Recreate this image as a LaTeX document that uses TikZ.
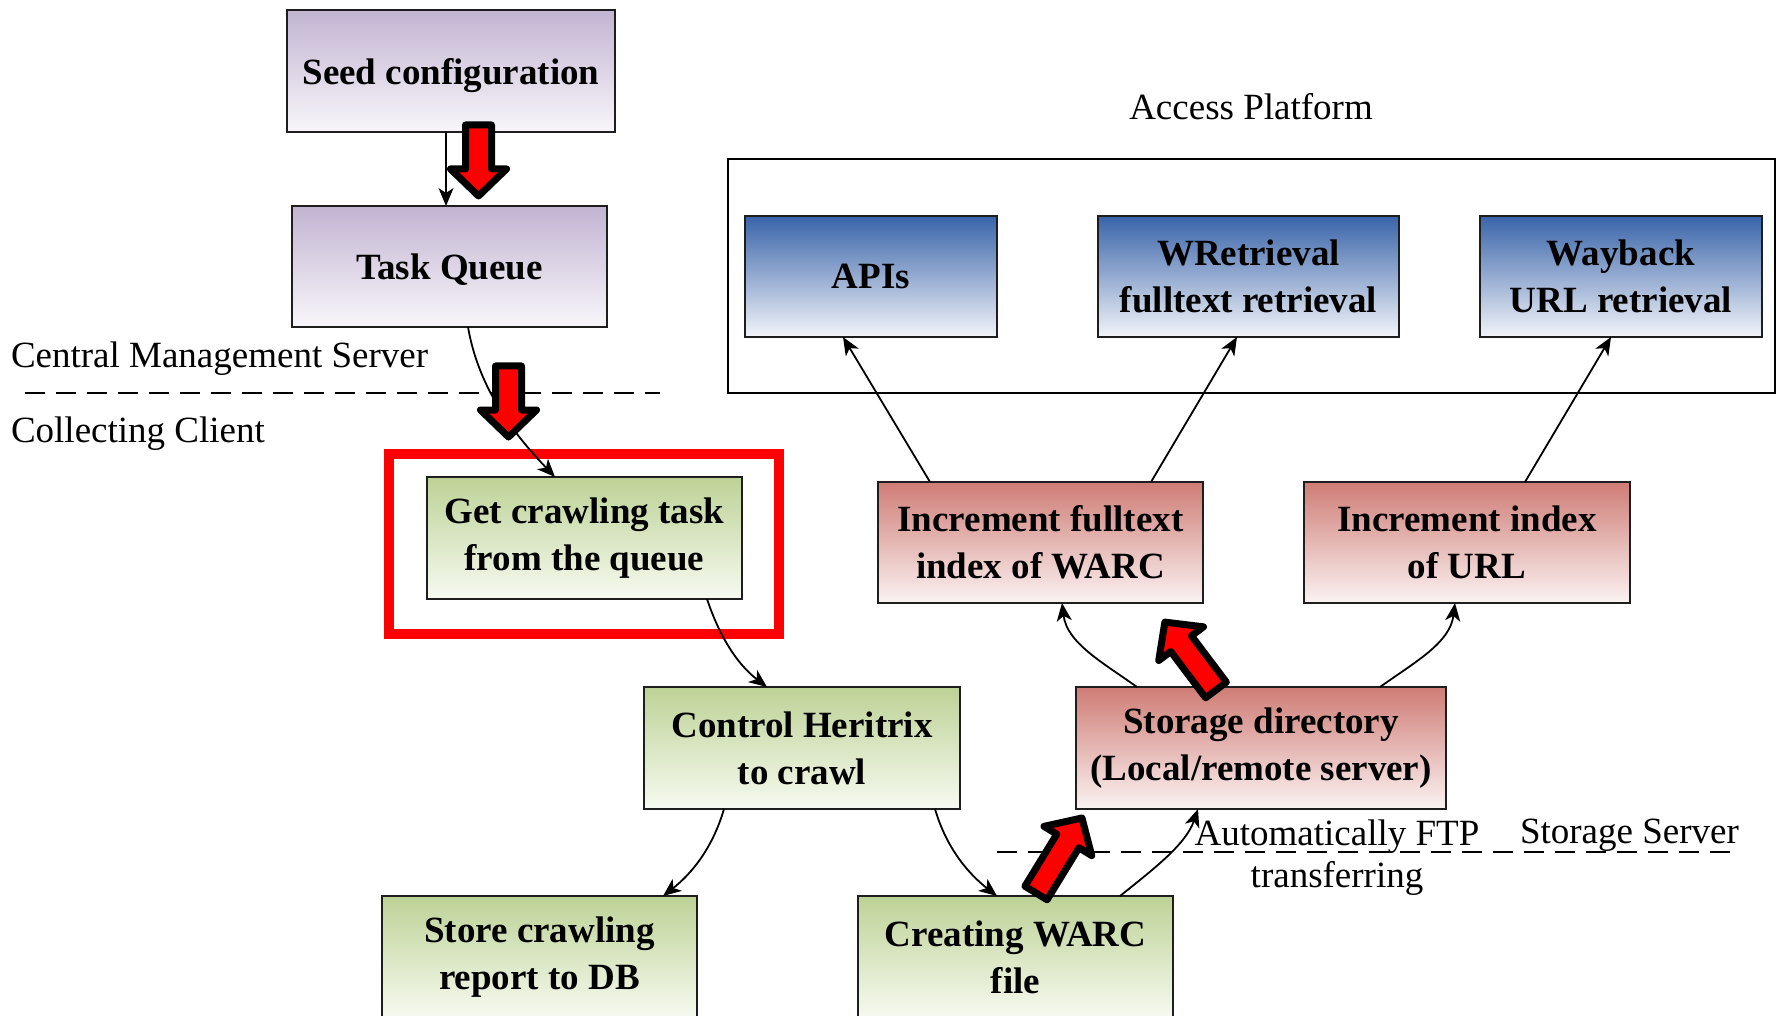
\documentclass[tikz,border=0pt]{standalone}
\usepackage{fontspec}
\setmainfont{Liberation Serif}
\usetikzlibrary{arrows.meta,calc}
\definecolor{purtop}{HTML}{C2B4D2}
\definecolor{purbot}{HTML}{F8F6FA}
\definecolor{blutop}{HTML}{3964A9}
\definecolor{blubot}{HTML}{F2F4F9}
\definecolor{redtop}{HTML}{CF7C75}
\definecolor{redbot}{HTML}{FBF3F3}
\definecolor{grntop}{HTML}{BDD296}
\definecolor{grnbot}{HTML}{F7FAF0}
\definecolor{boxline}{HTML}{1E1E1E}
\tikzset{
  box/.style={draw=boxline, line width=2.5pt, inner sep=0pt, outer sep=0pt, align=center,
    font=\fontsize{37}{47}\selectfont\bfseries},
  purplebox/.style={box, top color=purtop, bottom color=purbot},
  bluebox/.style={box, top color=blutop, bottom color=blubot},
  redbox/.style={box, top color=redtop, bottom color=redbot},
  greenbox/.style={box, top color=grntop, bottom color=grnbot},
  conn/.style={line width=1.8pt, -{Stealth[length=18pt,width=15pt,inset=5pt]}},
  redarrow/.style={fill=red, draw=black, line width=7pt, line join=round},
  lbl/.style={font=\fontsize{37}{45}\selectfont, inner sep=0pt, outer sep=0pt},
  dashline/.style={line width=2pt, dash pattern=on 20pt off 11pt},
}
\newcommand{\redblock}[3]{%
  \draw[redarrow, shift={#1}, rotate=#2] (0,-13) -- ({#3-27},-13) -- ({#3-27},-28) -- (#3,0)
    -- ({#3-27},28) -- ({#3-27},13) -- (0,13) -- cycle;}
\begin{document}
\begin{tikzpicture}[x=1pt,y=-1pt]
\useasboundingbox (0,0) rectangle (1781,1016);
\clip (0,0) rectangle (1781,1016);

% labels and separators
\node[lbl, anchor=base] (aplabel) at (1251,120) {Access Platform};
\node[lbl, anchor=base west] (cms) at (11,367) {Central Management Server};
\node[lbl, anchor=base west] (cc) at (11,442) {Collecting Client};
\node[lbl, anchor=base west] (ss) at (1520,843) {Storage Server};
\node[lbl, anchor=base] (ftp1) at (1337,845) {Automatically FTP};
\node[lbl, anchor=base] (ftp2) at (1337,887) {transferring};
\draw[dashline] (25,393) -- (660,393);
\draw[dashline] (997,852) -- (1738,852);

% access platform frame
\node[draw=black, line width=2pt, minimum width=1047pt, minimum height=234pt, inner sep=0pt, outer sep=0pt] (access) at (1251.5,276) {};

% highlight
\node[draw=red, line width=10pt, minimum width=390pt, minimum height=180pt, inner sep=0pt, outer sep=0pt] (hl) at (584,544) {};

% boxes
\node[purplebox, text depth=0pt, minimum width=328pt, minimum height=122pt] (seed) at (451,71) {Seed configuration};
\node[purplebox, text depth=0pt, minimum width=315pt, minimum height=121pt] (tq) at (449.5,266.5) {Task Queue};
\node[greenbox, minimum width=315pt, minimum height=122pt] (get) at (584.5,538) {Get crawling task\\from the queue};
\node[greenbox, minimum width=316pt, minimum height=122pt] (ctrl) at (802,748) {Control Heritrix\\to crawl};
\node[greenbox, minimum width=315pt, minimum height=122pt] (store) at (539.5,957) {Store crawling\\report to DB};
\node[greenbox, minimum width=315pt, minimum height=122pt] (warc) at (1015.5,957) {Creating WARC\\file};
\node[redbox, minimum width=370pt, minimum height=122pt] (storage) at (1261,748) {Storage directory\\(Local/remote server)};
\node[redbox, minimum width=325pt, minimum height=121pt] (incft) at (1040.5,542.5) {Increment fulltext\\index of WARC};
\node[redbox, minimum width=326pt, minimum height=121pt] (incidx) at (1467,542.5) {Increment index\\of URL};
\node[bluebox, minimum width=252pt, minimum height=121pt] (apis) at (871,276.5) {APIs};
\node[bluebox, minimum width=301pt, minimum height=121pt] (wret) at (1248.5,276.5) {WRetrieval\\fulltext retrieval};
\node[bluebox, minimum width=282pt, minimum height=121pt] (wayback) at (1621,276.5) {Wayback\\URL retrieval};

% connectors
\draw[conn] ($(seed.south west)+(159,0)$) -- ($(tq.north west)+(154,0)$);
\draw[conn] ($(tq.south west)+(176,0)$) .. controls +(10,58) and +(-45,-47) .. ($(get.north west)+(128,0)$);
\draw[conn] ($(get.south west)+(280,0)$) .. controls +(15,45) and +(-25,-19) .. ($(ctrl.north west)+(123,0)$);
\draw[conn] ($(ctrl.south west)+(80,0)$) .. controls +(-12,41) and +(27,-21) .. ($(store.north west)+(281,0)$);
\draw[conn] ($(ctrl.south west)+(291,0)$) .. controls +(12,41) and +(-27,-21) .. ($(warc.north west)+(139,0)$);
\draw[conn] ($(warc.north west)+(262,0)$) .. controls +(35,-28) and +(-12,35) .. ($(storage.south west)+(122,0)$);
\draw[conn] ($(storage.north west)+(61,0)$) .. controls +(-35,-25) and +(5,40) .. ($(incft.south west)+(184,0)$);
\draw[conn] ($(storage.north west)+(304,0)$) .. controls +(35,-25) and +(-5,40) .. ($(incidx.south west)+(151,0)$);
\draw[conn] ($(incft.north west)+(52,0)$) -- ($(apis.south west)+(98,0)$);
\draw[conn] ($(incft.north west)+(273,0)$) -- ($(wret.south west)+(139,0)$);
\draw[conn] ($(incidx.north west)+(221,0)$) -- ($(wayback.south west)+(131,0)$);

% red block arrows
\redblock{(478.5,125)}{-90}{71}
\redblock{(508.5,366)}{-90}{71}
\redblock{(1216,690)}{127}{85}
\redblock{(1036,893)}{58.5}{88}
\end{tikzpicture}
\end{document}
